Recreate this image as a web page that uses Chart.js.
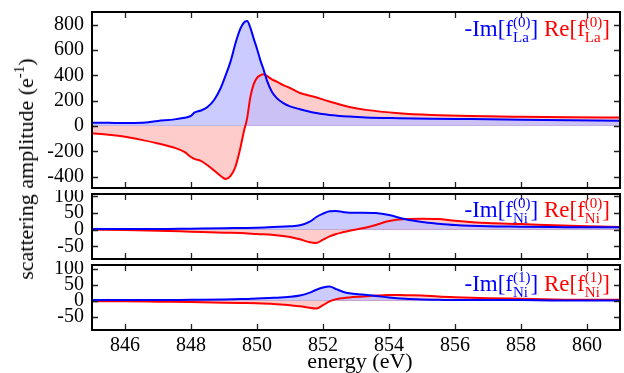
<!DOCTYPE html>
<html>
<head>
<meta charset="utf-8">
<script src="https://cdn.jsdelivr.net/npm/chart.js@4.4.0/dist/chart.umd.min.js"></script>
<style>
  body { margin: 0; background: #fff; }
  #wrap { position: relative; width: 624px; height: 373px; overflow: hidden; font-family: 'Liberation Serif', serif; }
  canvas { position: absolute; left: 0; }
  .legend { position: absolute; right: 14px; font-size: 23px; line-height: 23px; white-space: nowrap; }
  .ss { display: inline-block; font-size: 15px; line-height: 15px; vertical-align: -6px; }
  .ss span { display: block; }
  .blue { color: #0000ff; }
  .red { color: #ff0000; }
  #ytitle { position: absolute; left: 26px; top: 169px; transform: translate(-50%, -50%) rotate(-90deg); font-size: 22px; line-height: 22px; white-space: nowrap; }
  #ytitle sup { font-size: 15px; line-height: 0; vertical-align: 9px; }
  #xtitle { position: absolute; left: 360px; top: 350px; transform: translateX(-50%); font-size: 22px; line-height: 22px; white-space: nowrap; }
</style>
</head>
<body>
<div id="wrap">
  <canvas id="chart-la" width="624" height="192" style="top:0px"></canvas>
  <canvas id="chart-ni0" width="624" height="72" style="top:190px"></canvas>
  <canvas id="chart-ni1" width="624" height="112" style="top:261px"></canvas>

  <div class="legend" style="top:15px"><span class="blue">-Im[f<span class="ss"><span>(0)</span><span>La</span></span>]</span> <span class="red">Re[f<span class="ss"><span>(0)</span><span>La</span></span>]</span></div>
  <div class="legend" style="top:196px"><span class="blue">-Im[f<span class="ss"><span>(0)</span><span>Ni</span></span>]</span> <span class="red">Re[f<span class="ss"><span>(0)</span><span>Ni</span></span>]</span></div>
  <div class="legend" style="top:270px"><span class="blue">-Im[f<span class="ss"><span>(1)</span><span>Ni</span></span>]</span> <span class="red">Re[f<span class="ss"><span>(1)</span><span>Ni</span></span>]</span></div>

  <div id="ytitle">scattering amplitude (e<sup>-1</sup>)</div>
  <div id="xtitle">energy (eV)</div>
</div>
<script>
// La edge (top panel)
const energyLa = [845, 845.5, 846, 846.5, 847, 847.5, 847.8, 848, 848.1, 848.3, 848.5, 848.7, 848.9, 849.05, 849.2, 849.35, 849.5, 849.6, 849.7, 849.8, 849.9, 850, 850.1, 850.2, 850.3, 850.45, 850.6, 850.8, 851, 851.3, 851.7, 852.2, 852.8, 853.3, 854.3, 855.3, 856.5, 858, 859.5, 861]
const imLa = [26, 25, 23, 25, 40, 52, 65, 80, 105, 122, 150, 205, 300, 400, 510, 655, 770, 815, 828, 775, 690, 610, 520, 445, 360, 270, 220, 180, 155, 132, 106, 87, 74, 67, 61, 57, 54, 50, 46, 42]
const reLa = [-58, -70, -86, -110, -138, -172, -205, -245, -260, -275, -310, -352, -395, -418, -395, -320, -170, -45, 60, 230, 330, 380, 400, 408, 395, 368, 350, 322, 300, 260, 233, 193, 150, 127, 101, 87, 78, 72, 68, 66]

// Ni edge (middle and bottom panels)
const energyNi = [845, 846, 847, 848, 849, 849.5, 850, 850.5, 851, 851.3, 851.6, 851.8, 852, 852.2, 852.4, 852.6, 852.8, 853.2, 853.6, 854, 854.5, 855, 855.5, 856, 857, 858, 859, 860, 861]
const imNi0 = [2, 2, 2, 3, 4, 5, 6, 8, 10, 13, 24, 38, 48, 55, 56, 53, 51, 51, 50, 44, 31, 23, 18, 14, 10, 9, 8, 7, 7]
const reNi0 = [0, -1, -3, -6, -9, -10, -13, -16, -22, -29, -38, -40, -30, -20, -13, -8, -3, 4, 14, 26, 32, 33, 32, 27, 20, 17, 13, 10, 8]
const imNi1 = [2, 2, 2, 3, 4, 5, 7, 9, 12, 16, 25, 34, 41, 44, 36, 28, 23, 19, 15, 10, 6, 4, 3, 2, 2, 2, 1, 1, 1]
const reNi1 = [-2, -2, -3, -4, -6, -7, -8, -10, -14, -17, -22, -24, -14, -2, 5, 8, 10, 13, 16, 18, 17, 16, 13, 11, 8, 6, 4, 3, 3]

const xTicks = [846, 848, 850, 852, 854, 856, 858, 860]
const laTicks = [-400, -200, 0, 200, 400, 600, 800]
const niTicks = [-50, 0, 50, 100]

const tickFont = { family: 'Liberation Serif', size: 20 }

const toPoints = (xs, ys) => xs.map((x, i) => ({ x, y: ys[i] }))

// black frame with inward ticks on all four sides
const makeFrame = (yTicks) => ({
  id: 'frame',
  afterDraw: (chart) => {
    const { ctx, chartArea: a, scales } = chart
    ctx.save()
    ctx.strokeStyle = '#222'
    ctx.lineWidth = 1.3
    ctx.beginPath()
    xTicks.forEach((v) => {
      const px = Math.round(scales.x.getPixelForValue(v)) + 0.5
      ctx.moveTo(px, a.top); ctx.lineTo(px, a.top + 6)
      ctx.moveTo(px, a.bottom); ctx.lineTo(px, a.bottom - 6)
    })
    yTicks.forEach((v) => {
      const py = Math.round(scales.y.getPixelForValue(v)) + 0.5
      ctx.moveTo(a.left, py); ctx.lineTo(a.left + 6, py)
      ctx.moveTo(a.right, py); ctx.lineTo(a.right - 6, py)
    })
    ctx.stroke()
    ctx.strokeStyle = '#000'
    ctx.lineWidth = 2
    ctx.strokeRect(a.left, a.top, a.right - a.left, a.bottom - a.top)
    ctx.restore()
  }
})

const makePanel = (id, energies, imVals, reVals, yMin, yMax, yTicks, padding, showX) => {
  new Chart(document.getElementById(id), {
    type: 'line',
    data: {
      datasets: [
        {
          label: '-Im',
          data: toPoints(energies, imVals),
          borderColor: '#0000ff',
          backgroundColor: 'rgba(190, 190, 255, 0.8)',
          fill: 'origin',
          borderWidth: 2,
          pointRadius: 0,
          cubicInterpolationMode: 'monotone'
        },
        {
          label: 'Re',
          data: toPoints(energies, reVals),
          borderColor: '#ff0000',
          backgroundColor: 'rgba(255, 0, 0, 0.2)',
          fill: 'origin',
          borderWidth: 2,
          pointRadius: 0,
          cubicInterpolationMode: 'monotone'
        }
      ]
    },
    options: {
      responsive: false,
      animation: false,
      devicePixelRatio: 1,
      layout: { padding },
      plugins: {
        legend: { display: false },
        tooltip: { enabled: false },
        filler: { drawTime: 'beforeDatasetsDraw' }
      },
      scales: {
        x: {
          type: 'linear',
          min: 845,
          max: 861,
          display: showX,
          afterBuildTicks: (s) => { s.ticks = xTicks.map((value) => ({ value })) },
          afterFit: (s) => {
            s.height = showX ? 43 : 0
            s.paddingLeft = 0
            s.paddingRight = 0
          },
          grid: { display: false },
          border: { display: false },
          ticks: { font: tickFont, color: '#000', padding: -4, maxRotation: 0, autoSkip: false }
        },
        y: {
          min: yMin,
          max: yMax,
          afterBuildTicks: (s) => { s.ticks = yTicks.map((value) => ({ value })) },
          afterFit: (s) => {
            s.width = 92
            s.paddingTop = 0
            s.paddingBottom = 0
          },
          grid: {
            color: (c) => (c.tick && c.tick.value === 0 ? '#c49898' : 'rgba(0, 0, 0, 0)'),
            lineWidth: 1,
            drawTicks: false
          },
          border: { display: false },
          ticks: { font: tickFont, color: '#000', padding: 8, autoSkip: false }
        }
      }
    },
    plugins: [makeFrame(yTicks)]
  })
}

makePanel('chart-la', energyLa, imLa, reLa, -490, 900, laTicks, { top: 12, bottom: 4, left: 0, right: 4 }, false)
makePanel('chart-ni0', energyNi, imNi0, reNi0, -88, 107, niTicks, { top: 4, bottom: 3, left: 0, right: 4 }, false)
makePanel('chart-ni1', energyNi, imNi1, reNi1, -91, 111, niTicks, { top: 4, bottom: 0, left: 0, right: 4 }, true)
</script>
</body>
</html>
